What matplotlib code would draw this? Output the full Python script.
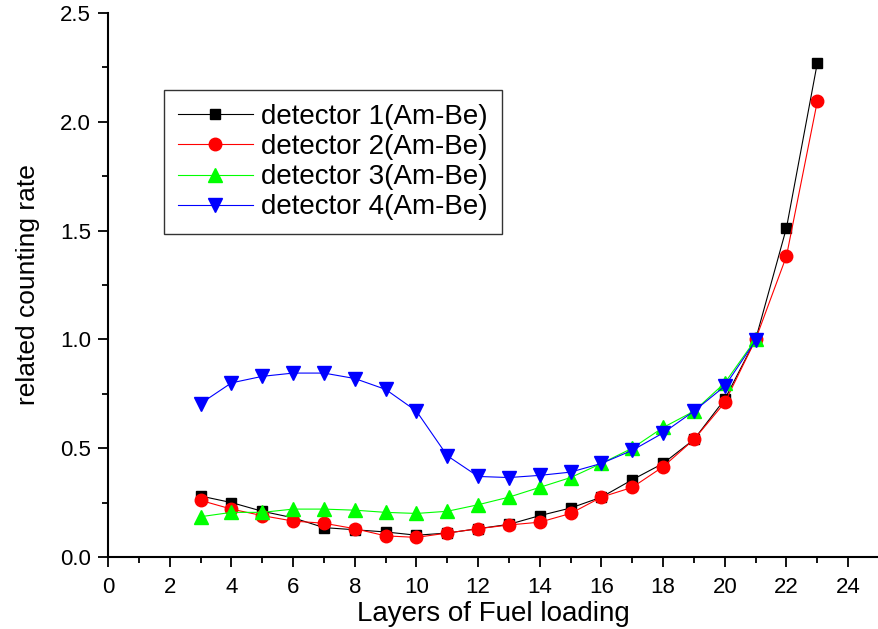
import matplotlib
matplotlib.use("Agg")
import matplotlib.pyplot as plt
from matplotlib.ticker import MultipleLocator, FormatStrFormatter

plt.rcParams['font.family'] = ['Liberation Sans', 'DejaVu Sans']

layers = [3, 4, 5, 6, 7, 8, 9, 10, 11, 12, 13, 14, 15, 16, 17, 18, 19, 20, 21, 22, 23]
layers_short = layers[:-2]

det1 = [0.28, 0.25, 0.21, 0.18, 0.135, 0.125, 0.115, 0.10, 0.11, 0.13, 0.15,
        0.19, 0.225, 0.275, 0.355, 0.43, 0.54, 0.725, 1.0, 1.513, 2.27]
det2 = [0.26, 0.22, 0.19, 0.165, 0.155, 0.13, 0.097, 0.09, 0.11, 0.13, 0.147,
        0.16, 0.20, 0.275, 0.32, 0.415, 0.54, 0.71, 1.0, 1.383, 2.094]
det3 = [0.185, 0.205, 0.205, 0.22, 0.22, 0.215, 0.205, 0.20, 0.21, 0.24, 0.275,
        0.32, 0.365, 0.43, 0.50, 0.595, 0.67, 0.80, 1.0]
det4 = [0.705, 0.80, 0.83, 0.845, 0.845, 0.82, 0.77, 0.67, 0.465, 0.37, 0.365,
        0.375, 0.39, 0.43, 0.49, 0.57, 0.67, 0.785, 0.995]

fig = plt.figure(figsize=(8.79, 6.29), dpi=100)
ax = fig.add_axes([0.123, 0.1145, 0.877, 0.865])

ax.plot(layers, det1, color="black", marker="s", markersize=7.5, linewidth=0.8, label="detector 1(Am-Be)")
ax.plot(layers, det2, color="red", marker="o", markersize=9, linewidth=0.8, label="detector 2(Am-Be)")
ax.plot(layers_short, det3, color="#00ff00", marker="^", markersize=9.5, linewidth=0.8, label="detector 3(Am-Be)")
ax.plot(layers_short, det4, color="blue", marker="v", markersize=9.5, linewidth=0.8, label="detector 4(Am-Be)")

ax.set_xlim(0, 25)
ax.set_ylim(0, 2.5)
ax.xaxis.set_major_locator(MultipleLocator(2))
ax.xaxis.set_minor_locator(MultipleLocator(1))
ax.yaxis.set_major_locator(MultipleLocator(0.5))
ax.yaxis.set_minor_locator(MultipleLocator(0.25))
ax.yaxis.set_major_formatter(FormatStrFormatter('%.1f'))

ax.spines['top'].set_visible(False)
ax.spines['right'].set_visible(False)
ax.spines['left'].set_linewidth(1.5)
ax.spines['bottom'].set_linewidth(1.5)
ax.tick_params(which='major', direction='out', length=7.5, width=1.3, labelsize=16)
ax.tick_params(axis='x', which='major', pad=7)
ax.tick_params(axis='y', which='major', pad=5)
ax.tick_params(which='minor', direction='out', length=4.5, width=1.3)

ax.set_xlabel("Layers of Fuel loading", fontsize=20, labelpad=2)
ax.set_ylabel("related counting rate", fontsize=19, labelpad=14)

leg = ax.legend(loc='upper left', bbox_to_anchor=(164 / 879, 1 - 90 / 629),
                bbox_transform=fig.transFigure, borderaxespad=0, fontsize=20,
                frameon=True, fancybox=False, edgecolor='black', numpoints=1,
                handlelength=2.7, handletextpad=0.3, borderpad=0.5, labelspacing=0.15)
leg.get_frame().set_linewidth(1.0)

fig.savefig("out.png", dpi=100)
